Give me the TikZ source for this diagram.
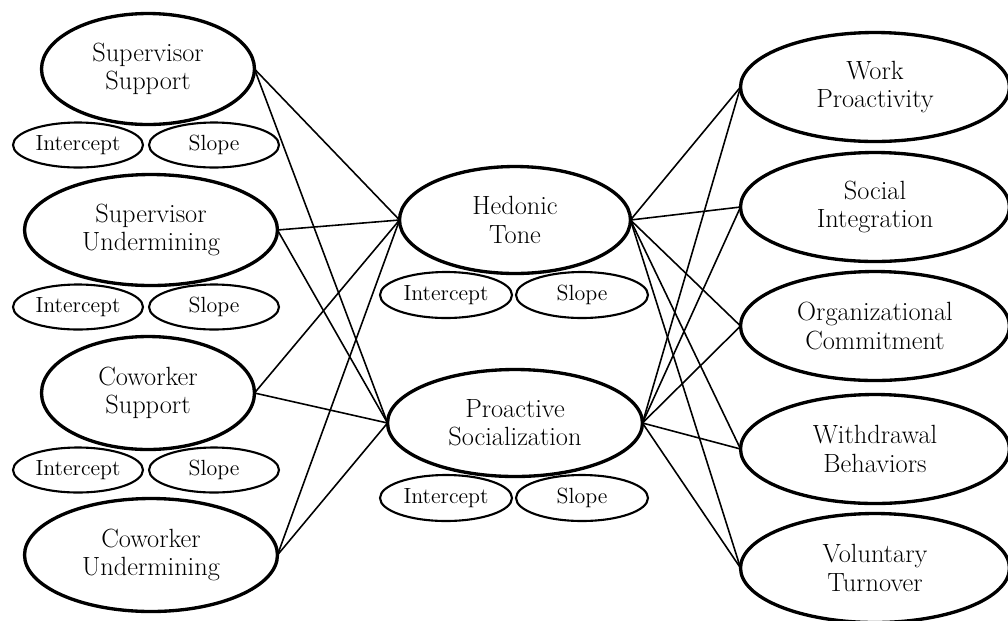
\documentclass[tikz,border=0pt]{standalone}
\usepackage{tikz}
\usetikzlibrary{shapes.geometric}

\tikzset{
  latent/.style={ellipse, draw, line width=1.9pt, inner sep=0pt, outer sep=0pt,
    align=center, font=\fontsize{15}{16}\selectfont},
  growth/.style={ellipse, draw, line width=1.2pt, inner sep=0pt, outer sep=0pt,
    minimum width=2.6cm, minimum height=0.9cm, font=\fontsize{12.5}{14}\selectfont},
  path/.style={line width=0.9pt}
}

\begin{document}
\begin{tikzpicture}[x=0.02cm, y=-0.02cm]
  \useasboundingbox (0,0) rectangle (1008,620);

  % predictors
  \node[latent, minimum width=4.26cm, minimum height=2.22cm] (SS) at (148,69) {Supervisor\\Support};
  \node[growth] (SSi) at (78,145) {Intercept};
  \node[growth] (SSs) at (214,145) {Slope};
  \node[latent, minimum width=5.06cm, minimum height=2.22cm] (SU) at (151,230) {Supervisor\\Undermining};
  \node[growth] (SUi) at (78,307) {Intercept};
  \node[growth] (SUs) at (214,307) {Slope};
  \node[latent, minimum width=4.26cm, minimum height=2.26cm] (CS) at (148,393) {Coworker\\Support};
  \node[growth] (CSi) at (78,470) {Intercept};
  \node[growth] (CSs) at (214,470) {Slope};
  \node[latent, minimum width=5.06cm, minimum height=2.26cm] (CU) at (151,555) {Coworker\\Undermining};

  % mediators
  \node[latent, minimum width=4.62cm, minimum height=2.14cm] (HT) at (515,220) {Hedonic\\Tone};
  \node[growth, minimum width=2.64cm, minimum height=0.92cm] (HTi) at (446,295) {Intercept};
  \node[growth, minimum width=2.64cm, minimum height=0.92cm] (HTs) at (582,295) {Slope};
  \node[latent, minimum width=5.10cm, minimum height=2.14cm] (PS) at (515,423) {Proactive\\Socialization};
  \node[growth, minimum width=2.64cm, minimum height=0.92cm] (PSi) at (446,498) {Intercept};
  \node[growth, minimum width=2.64cm, minimum height=0.92cm] (PSs) at (582,498) {Slope};

  % outcomes
  \node[latent, minimum width=5.38cm, minimum height=2.18cm] (WP) at (875,87) {Work\\Proactivity};
  \node[latent, minimum width=5.38cm, minimum height=2.18cm] (SI) at (875,207) {Social\\Integration};
  \node[latent, minimum width=5.38cm, minimum height=2.18cm] (OC) at (875,326) {Organizational\\Commitment};
  \node[latent, minimum width=5.38cm, minimum height=2.18cm] (WB) at (875,449) {Withdrawal\\Behaviors};
  \node[latent, minimum width=5.38cm, minimum height=2.18cm] (VT) at (875,568) {Voluntary\\Turnover};

  \foreach \src in {SS,SU,CS,CU} {
    \draw[path] (\src.east) -- (HT.west);
    \draw[path] (\src.east) -- (PS.west);
  }
  \foreach \dst in {WP,SI,OC,WB,VT} {
    \draw[path] (HT.east) -- (\dst.west);
    \draw[path] (PS.east) -- (\dst.west);
  }
\end{tikzpicture}
\end{document}
